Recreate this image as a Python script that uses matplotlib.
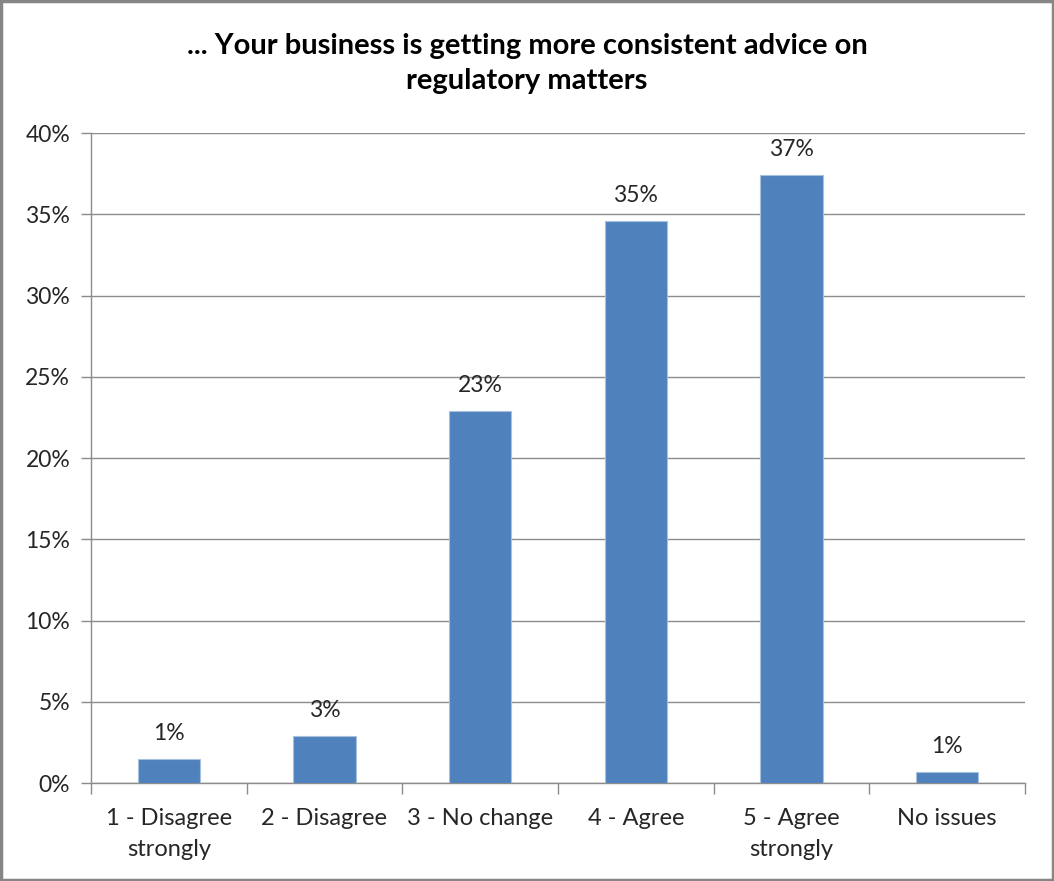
import numpy as np
import matplotlib.pyplot as plt
from matplotlib.patches import Rectangle

categories = ["1 - Disagree\nstrongly", "2 - Disagree", "3 - No change",
              "4 - Agree", "5 - Agree\nstrongly", "No issues"]
shares = [1.45, 2.88, 22.9, 34.6, 37.4, 0.67]  # percent of respondents
title = "... Your business is getting more consistent advice on\nregulatory matters"

plt.rcParams['font.family'] = ['Lato', 'DejaVu Sans']

fig = plt.figure(figsize=(10.54, 8.81), dpi=100)
ax = fig.add_axes([0.0863, 0.1112, 0.9725 - 0.0863, 0.849 - 0.1112])

x = np.arange(len(categories))
ax.bar(x, shares, width=0.40, color="#4F81BD", edgecolor="#A7C0DE", linewidth=0.8, zorder=3)

for xi, v in zip(x, shares):
    ax.annotate(f"{round(v):.0f}%", (xi, v), xytext=(0, 11), textcoords="offset points",
                ha="center", va="bottom", fontsize=16.5, color="#262626")

ax.set_xlim(-0.5, len(categories) - 0.5)
ax.set_ylim(0, 40)
ax.set_yticks(np.arange(0, 41, 5))
ax.set_yticklabels([f"{t}%" for t in range(0, 41, 5)], fontsize=16.5, color="#262626")
ax.yaxis.grid(True, color="#8C8C8C", linewidth=1, zorder=0)

# category labels centred, tick marks at the category boundaries
ax.set_xticks(x)
ax.set_xticklabels(categories, fontsize=17, color="#262626", linespacing=1.6)
ax.tick_params(axis="x", length=0, pad=18)
ax.set_xticks(np.arange(-0.5, len(categories)), minor=True)
ax.tick_params(axis="x", which="minor", length=8, color="#8C8C8C", width=1)
ax.tick_params(axis="y", length=7, color="#8C8C8C", width=1, pad=8)

for side in ["top", "right"]:
    ax.spines[side].set_visible(False)
for side in ["left", "bottom"]:
    ax.spines[side].set_color("#8C8C8C")
    ax.spines[side].set_linewidth(1)

fig.text(0.5, 0.962, title, ha="center", va="top", fontsize=21, fontweight="bold",
         color="#000000", linespacing=1.4)

# outer chart border
fig.patches.append(Rectangle((0.001, 0.001), 0.998, 0.998, transform=fig.transFigure,
                             fill=False, edgecolor="#868686", linewidth=2.5))

fig.savefig("out.png", dpi=100, facecolor="white")
